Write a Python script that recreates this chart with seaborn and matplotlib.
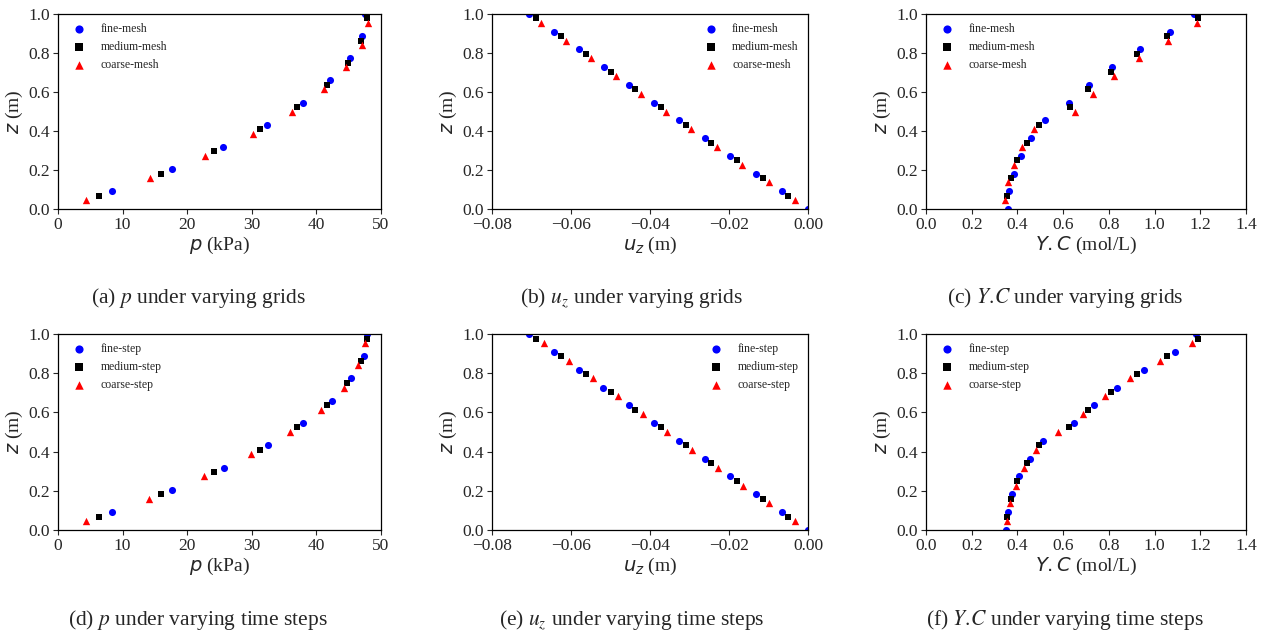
import matplotlib
matplotlib.use('Agg')
import matplotlib.pyplot as plt
import seaborn as sns

# depth positions (m)
z_p_fine = [0.091, 0.205, 0.318, 0.432, 0.545, 0.659, 0.773, 0.886, 1.0]
z_p_medium = [0.068, 0.182, 0.295, 0.409, 0.523, 0.636, 0.750, 0.864, 0.977]
z_p_coarse = [0.045, 0.159, 0.273, 0.386, 0.500, 0.614, 0.727, 0.841, 0.955]

z_fine = [0.0, 0.091, 0.182, 0.273, 0.364, 0.455, 0.545, 0.636, 0.727, 0.818, 0.909, 1.0]
z_medium = [0.068, 0.159, 0.250, 0.341, 0.432, 0.523, 0.614, 0.705, 0.795, 0.886, 0.977]
z_coarse = [0.045, 0.136, 0.227, 0.318, 0.409, 0.500, 0.591, 0.682, 0.773, 0.864, 0.955]

# pressure p (kPa)
p_grid_fine = [8.4, 17.6, 25.6, 32.3, 37.9, 42.1, 45.2, 47.0, 47.6]
p_grid_medium = [6.35, 16.0, 24.2, 31.3, 37.0, 41.6, 44.9, 46.9, 47.8]
p_grid_coarse = [4.3, 14.3, 22.8, 30.2, 36.3, 41.1, 44.6, 47.0, 48.0]

p_step_fine = [8.4, 17.7, 25.7, 32.5, 38.0, 42.4, 45.4, 47.3, 47.8]
p_step_medium = [6.35, 16.0, 24.2, 31.25, 37.0, 41.6, 44.8, 46.9, 47.8]
p_step_coarse = [4.3, 14.1, 22.6, 29.9, 35.9, 40.7, 44.2, 46.5, 47.6]

# displacement u_z (m)
u_grid_fine = [0.0, -0.0067, -0.0132, -0.0198, -0.0262, -0.0326, -0.0390,
               -0.0454, -0.0517, -0.0579, -0.0642, -0.0706]
u_grid_medium = [-0.0050, -0.0115, -0.0180, -0.0246, -0.0310, -0.0373,
                 -0.0437, -0.0500, -0.0563, -0.0626, -0.0689]
u_grid_coarse = [-0.0034, -0.0100, -0.0166, -0.0231, -0.0296, -0.0360,
                 -0.0424, -0.0487, -0.0550, -0.0613, -0.0676]

u_step_fine = [0.0, -0.0067, -0.0132, -0.0198, -0.0262, -0.0326, -0.0390,
               -0.0454, -0.0518, -0.0580, -0.0642, -0.0706]
u_step_medium = [-0.0050, -0.0115, -0.0181, -0.0246, -0.0310, -0.0373,
                 -0.0437, -0.0500, -0.0563, -0.0626, -0.0689]
u_step_coarse = [-0.0033, -0.0099, -0.0164, -0.0228, -0.0293, -0.0356,
                 -0.0418, -0.0481, -0.0544, -0.0606, -0.0669]

# concentration Y.C (mol/L)
yc_grid_fine = [0.359, 0.365, 0.384, 0.417, 0.461, 0.521, 0.624, 0.712,
                0.815, 0.935, 1.069, 1.171]
yc_grid_medium = [0.356, 0.372, 0.400, 0.442, 0.496, 0.629, 0.710, 0.808,
                  0.923, 1.056, 1.191]
yc_grid_coarse = [0.347, 0.360, 0.384, 0.420, 0.471, 0.653, 0.731, 0.822,
                  0.932, 1.057, 1.186]

yc_step_fine = [0.351, 0.359, 0.376, 0.408, 0.454, 0.510, 0.646, 0.734,
                0.836, 0.955, 1.091, 1.181]
yc_step_medium = [0.356, 0.372, 0.400, 0.442, 0.496, 0.627, 0.710, 0.809,
                  0.925, 1.056, 1.191]
yc_step_coarse = [0.356, 0.367, 0.392, 0.429, 0.481, 0.579, 0.688, 0.785,
                  0.894, 1.022, 1.165]

grid_labels = ['fine-mesh', 'medium-mesh', 'coarse-mesh']
step_labels = ['fine-step', 'medium-step', 'coarse-step']

MARKERS = ['o', 's', '^']
COLORS = ['blue', 'black', 'red']
SIZES = [26, 24, 28]

sns.set_style('ticks')
plt.rcParams['font.family'] = ['Liberation Serif', 'DejaVu Serif']
plt.rcParams['axes.unicode_minus'] = True


def draw_panel(ax, xs, zs, labels, xlim, xticks, xlabel, loc):
	for x, z, lab, mk, col, s in zip(xs, zs, labels, MARKERS, COLORS, SIZES):
		sns.scatterplot(x=x, y=z, ax=ax, marker=mk, color=col, s=s,
			linewidth=0, label=lab)
	ax.set_xlim(xlim)
	ax.set_ylim(0, 1)
	ax.set_xticks(xticks)
	ax.set_yticks([0.0, 0.2, 0.4, 0.6, 0.8, 1.0])
	ax.set_xlabel(xlabel, fontsize=14, labelpad=1)
	ax.set_ylabel(r'$z$ (m)', fontsize=14, labelpad=2)
	ax.tick_params(labelsize=12.5, direction='out', length=3.5, width=0.8, pad=2.5)
	for sp in ax.spines.values():
		sp.set_visible(True)
		sp.set_linewidth(0.9)
		sp.set_color('black')
	ax.legend(loc=loc, frameon=False, fontsize=8.5, markerscale=1.15,
		borderaxespad=0.4)


fig = plt.figure(figsize=(12.66, 6.36), dpi=100)
W, H = 1266.0, 636.0

cols = [(58, 381), (492, 808), (926, 1246)]
rows = [(14, 209), (334, 530)]


def make_ax(c, r):
	x0, x1 = cols[c]
	y0, y1 = rows[r]
	return fig.add_axes([x0 / W, 1 - y1 / H, (x1 - x0) / W, (y1 - y0) / H])


p_ticks = [0, 10, 20, 30, 40, 50]
u_ticks = [-0.08, -0.06, -0.04, -0.02, 0.00]
yc_ticks = [0.0, 0.2, 0.4, 0.6, 0.8, 1.0, 1.2, 1.4]

draw_panel(make_ax(0, 0), [p_grid_fine, p_grid_medium, p_grid_coarse],
	[z_p_fine, z_p_medium, z_p_coarse], grid_labels, (0, 50), p_ticks,
	r'$p$ (kPa)', 'upper left')
draw_panel(make_ax(1, 0), [u_grid_fine, u_grid_medium, u_grid_coarse],
	[z_fine, z_medium, z_coarse], grid_labels, (-0.08, 0.0), u_ticks,
	r'$u_z$ (m)', 'upper right')
draw_panel(make_ax(2, 0), [yc_grid_fine, yc_grid_medium, yc_grid_coarse],
	[z_fine, z_medium, z_coarse], grid_labels, (0, 1.4), yc_ticks,
	r'$Y.C$ (mol/L)', 'upper left')

draw_panel(make_ax(0, 1), [p_step_fine, p_step_medium, p_step_coarse],
	[z_p_fine, z_p_medium, z_p_coarse], step_labels, (0, 50), p_ticks,
	r'$p$ (kPa)', 'upper left')
draw_panel(make_ax(1, 1), [u_step_fine, u_step_medium, u_step_coarse],
	[z_fine, z_medium, z_coarse], step_labels, (-0.08, 0.0), u_ticks,
	r'$u_z$ (m)', 'upper right')
draw_panel(make_ax(2, 1), [yc_step_fine, yc_step_medium, yc_step_coarse],
	[z_fine, z_medium, z_coarse], step_labels, (0, 1.4), yc_ticks,
	r'$Y.C$ (mol/L)', 'upper left')

captions = [
	(199, 298, r'(a) $p$ under varying grids'),
	(632, 298, r'(b) $u_z$ under varying grids'),
	(1065, 298, r'(c) $Y.\!C$ under varying grids'),
	(198, 620, r'(d) $p$ under varying time steps'),
	(632, 620, r'(e) $u_z$ under varying time steps'),
	(1065, 620, r'(f) $Y.\!C$ under varying time steps'),
]
for cx, cy, txt in captions:
	fig.text(cx / W, 1 - cy / H, txt, ha='center', va='center',
		fontsize=15.5, math_fontfamily='stix')

plt.savefig('out.png', dpi=100)
